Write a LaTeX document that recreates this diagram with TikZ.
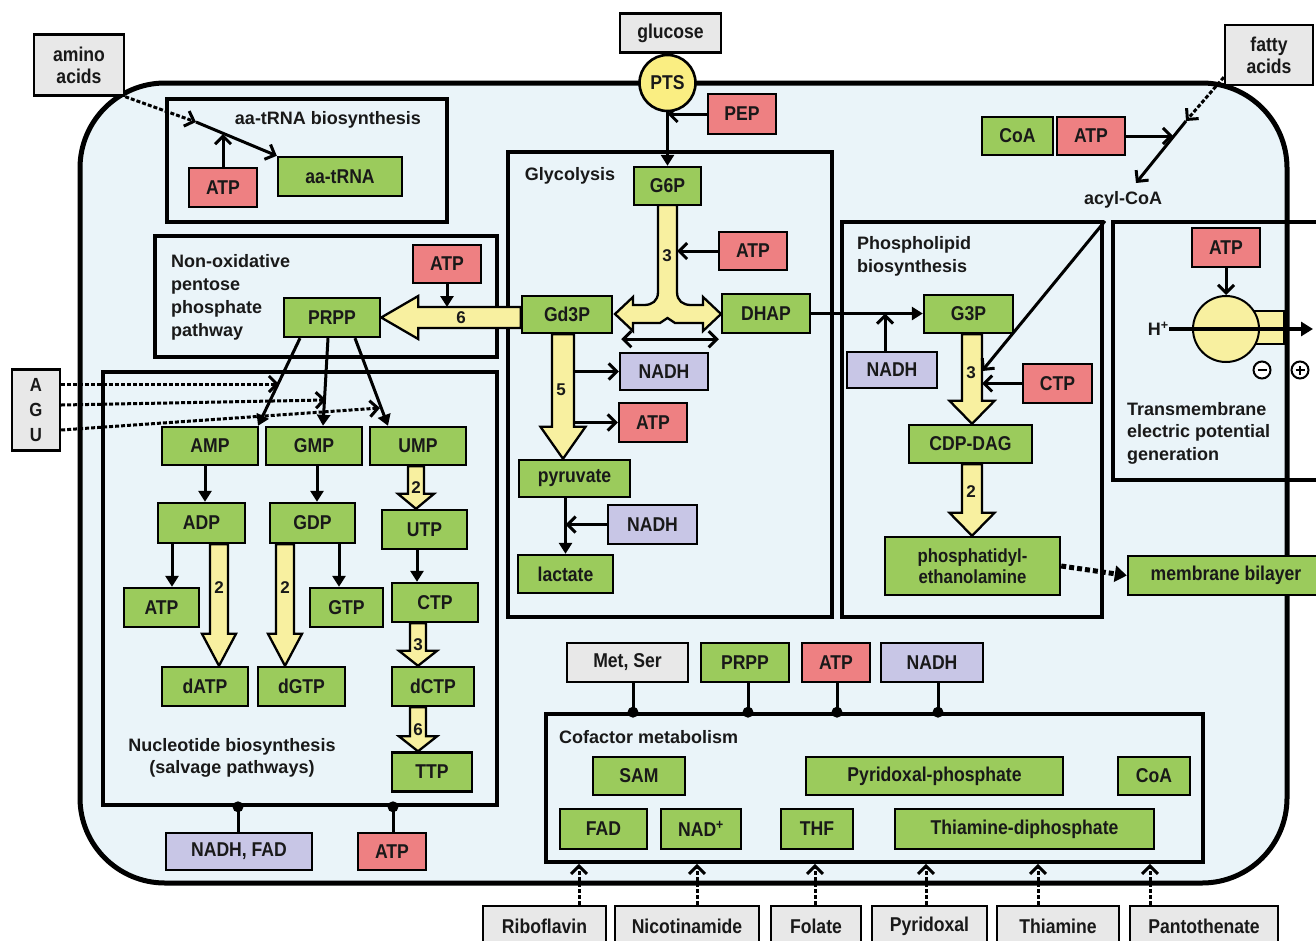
\documentclass[tikz,border=0pt]{standalone}
\usepackage{fontspec}
\setmainfont{Liberation Sans}
\newfontfamily\boxfont{Liberation Sans}[FakeStretch=0.88]
\usetikzlibrary{arrows.meta,calc}
\pgfdeclarelayer{bg}
\pgfdeclarelayer{conn}
\pgfsetlayers{bg,conn,main}
\definecolor{cgreen}{RGB}{155,203,92}
\definecolor{cred}{RGB}{238,128,130}
\definecolor{cpurple}{RGB}{200,198,230}
\definecolor{cgray}{RGB}{232,232,232}
\definecolor{cyellow}{RGB}{248,240,160}
\definecolor{cpts}{RGB}{250,238,130}
\definecolor{ccell}{RGB}{234,244,249}
\definecolor{ctext}{RGB}{25,25,25}
\newcommand\fatdown[6]{%
 \filldraw[fat] let \p1=(#1,0), \p2=(#2), \p3=(#3) in
  (\x1-#4pt,\y2) -- (\x1-#4pt,\y3+#6pt) -- (\x1-#5pt,\y3+#6pt) -- (\x1,\y3) -- (\x1+#5pt,\y3+#6pt) -- (\x1+#4pt,\y3+#6pt) -- (\x1+#4pt,\y2) -- cycle;}
\begin{document}
\begin{tikzpicture}[x=1pt,y=-1pt,
 >={Straight Barb[length=8pt,width=16pt]},
 bx/.style={draw=black, line width=2.4pt, inner sep=0pt, minimum height=38pt, align=center, text=ctext, font=\boxfont\fontsize{20}{22}\selectfont\bfseries},
 gbox/.style={bx, fill=cgreen},
 rbox/.style={bx, fill=cred},
 pbox/.style={bx, fill=cpurple},
 xbox/.style={bx, fill=cgray},
 sect/.style={draw=black, line width=3.6pt, inner sep=0pt},
 lbl/.style={font=\fontsize{18}{23}\selectfont\bfseries, text=ctext, inner sep=0pt},
 arr/.style={line width=3pt, ->},
 dbl/.style={line width=3pt, <->},
 arrT/.style={line width=3pt, -{Triangle[length=11pt,width=13pt]}},
 dsh/.style={line width=3pt, dash pattern=on 4pt off 2pt, ->},
 fat/.style={draw=black, line width=2.3pt, fill=cyellow, line join=miter},
 num/.style={font=\fontsize{17}{17}\selectfont\bfseries, text=ctext, inner sep=0pt},
 dotc/.style={circle, fill=black, inner sep=0pt, minimum size=11pt},
 pm/.style={circle, draw=black, line width=2pt, fill=white, inner sep=0pt, minimum size=17pt}]
\useasboundingbox (0,0) rectangle (1316,940);
\begin{pgfonlayer}{bg}
\fill[white] (0,0) rectangle (1316,940);
\draw[line width=5pt, fill=ccell, rounded corners=85pt] (80,83) rectangle (1287,883);
\node[sect, minimum width=280pt, minimum height=123pt] (aasec) at (307,160.5) {};
\node[sect, minimum width=342pt, minimum height=121pt] (pppsec) at (326,296.5) {};
\node[sect, minimum width=394pt, minimum height=433pt] (nucsec) at (300,588.5) {};
\node[sect, minimum width=324pt, minimum height=465pt] (glysec) at (670,384.5) {};
\node[sect, minimum width=260pt, minimum height=395pt] (phosec) at (972,419.5) {};
\node[sect, minimum width=657pt, minimum height=148pt] (cofsec) at (874.5,788) {};
\draw[line width=3.6pt] (1330,222) -- (1113,222) -- (1113,480) -- (1330,480);
\end{pgfonlayer}

% ---------- labels
\node[lbl, anchor=center] (aalbl) at (328,120) {aa-tRNA biosynthesis};
\node[lbl, anchor=north west, align=left] (ppplbl) at (171,254) {Non-oxidative\\pentose\\phosphate\\pathway};
\node[lbl, anchor=base] (glylbl) at (570,180) {Glycolysis};
\node[lbl, anchor=north west, align=left] (pholbl) at (857,236) {Phospholipid\\biosynthesis};
\node[lbl, anchor=north west, align=left, font=\fontsize{18}{22.5}\selectfont\bfseries] (tmlbl) at (1127,402) {Transmembrane\\electric potential\\generation};
\node[lbl, anchor=north, align=center, font=\fontsize{18}{22}\selectfont\bfseries] (nuclbl) at (232,738) {Nucleotide biosynthesis\\(salvage pathways)};
\node[lbl, anchor=north west] (coflbl) at (559,730) {Cofactor metabolism};
\node[lbl, anchor=north] (acyl) at (1123,191) {acyl-CoA};
\node[lbl, anchor=east] (hplus) at (1169,329) {H\textsuperscript{+}};

% ---------- external
\node[xbox, minimum width=90pt, minimum height=61pt] (amino) at (79,65) {amino\\acids};
\node[xbox, minimum width=101pt, minimum height=39pt] (glucose) at (670.5,33) {glucose};
\node[xbox, minimum width=88pt, minimum height=60pt] (fatty) at (1269,55) {fatty\\acids};
\node[xbox, minimum width=48pt, minimum height=81pt, font=\boxfont\fontsize{19}{25}\selectfont\bfseries] (agu) at (36,410) {A\\G\\U};
\node[xbox, minimum width=123pt, minimum height=40pt] (ribo) at (544.5,926) {Riboflavin};
\node[xbox, minimum width=144pt, minimum height=40pt] (nico) at (687,926) {Nicotinamide};
\node[xbox, minimum width=90pt, minimum height=40pt] (fola) at (816,926) {Folate};
\node[xbox, minimum width=115pt, minimum height=40pt] (pyri) at (929.5,926) {Pyridoxal};
\node[xbox, minimum width=122pt, minimum height=40pt] (thia) at (1058,926) {Thiamine};
\node[xbox, minimum width=148pt, minimum height=40pt] (pant) at (1204,926) {Pantothenate};
\node[circle, draw=black, line width=2.6pt, fill=cpts, minimum size=56pt, inner sep=0pt, text=ctext, font=\boxfont\fontsize{20}{22}\selectfont\bfseries] (pts) at (667.5,83) {PTS};
\node[rbox, minimum width=68pt, minimum height=40pt] (pep) at (742,114) {PEP};

% ---------- aa-tRNA
\node[rbox, minimum width=68pt, minimum height=39pt] (atpaa) at (223,187.5) {ATP};
\node[gbox, minimum width=124pt, minimum height=39pt] (aatrna) at (340,176.5) {aa-tRNA};

% ---------- PPP
\node[rbox, minimum width=68pt] (atpppp) at (447,264) {ATP};
\node[gbox, minimum width=96pt, minimum height=39pt] (prpp) at (332,317.5) {PRPP};

% ---------- nucleotides
\node[gbox, minimum width=96pt] (amp) at (210,446) {AMP};
\node[gbox, minimum width=96pt] (gmp) at (314,446) {GMP};
\node[gbox, minimum width=96pt] (ump) at (418,446) {UMP};
\node[gbox, minimum width=87pt, minimum height=40pt] (adp) at (201.5,523) {ADP};
\node[gbox, minimum width=85pt, minimum height=40pt] (gdp) at (312.5,523) {GDP};
\node[gbox, minimum width=85pt, minimum height=39pt] (utp) at (424.5,529.5) {UTP};
\node[gbox, minimum width=75pt, minimum height=39pt] (atpn) at (161.5,607.5) {ATP};
\node[gbox, minimum width=73pt, minimum height=39pt] (gtp) at (346.5,607.5) {GTP};
\node[gbox, minimum width=86pt, minimum height=39pt] (ctp) at (435,602.5) {CTP};
\node[gbox, minimum width=86pt, minimum height=39pt] (datp) at (205,686.5) {dATP};
\node[gbox, minimum width=87pt, minimum height=39pt] (dgtp) at (301.5,686.5) {dGTP};
\node[gbox, minimum width=82pt, minimum height=39pt] (dctp) at (433,686.5) {dCTP};
\node[gbox, minimum width=80pt, minimum height=39pt] (ttp) at (432,772) {TTP};
\node[pbox, minimum width=146pt, minimum height=37pt] (nadhfad) at (239,851.5) {NADH, FAD};
\node[rbox, minimum width=68pt, minimum height=37pt] (atpnb) at (392,851.5) {ATP};

% ---------- glycolysis
\node[gbox, minimum width=67pt] (g6p) at (667.5,186) {G6P};
\node[rbox, minimum width=68pt] (atpg) at (753,251) {ATP};
\node[gbox, minimum width=90pt, minimum height=37pt] (gd3p) at (567,314.5) {Gd3P};
\node[gbox, minimum width=88pt, minimum height=39pt] (dhap) at (766,313.5) {DHAP};
\node[pbox, minimum width=88pt, minimum height=37pt] (nadhg) at (664,371.5) {NADH};
\node[rbox, minimum width=68pt, minimum height=39pt] (atpg2) at (653,422.5) {ATP};
\node[gbox, minimum width=111pt, minimum height=37pt] (pyruvate) at (574.5,478.5) {pyruvate};
\node[pbox, minimum width=89pt, minimum height=39pt] (nadhg2) at (652.5,524.5) {NADH};
\node[gbox, minimum width=95pt] (lactate) at (565.5,574) {lactate};

% ---------- phospholipid
\node[gbox, minimum width=89pt] (g3p) at (968.5,314) {G3P};
\node[pbox, minimum width=90pt, minimum height=36pt] (nadhp) at (892,370) {NADH};
\node[rbox, minimum width=69pt, minimum height=39pt] (ctp2) at (1057.5,383.5) {CTP};
\node[gbox, minimum width=123pt] (cdpdag) at (970.5,444) {CDP-DAG};
\node[gbox, minimum width=175pt, minimum height=58pt, font=\boxfont\fontsize{19}{21}\selectfont\bfseries] (pe) at (972.5,566) {phosphatidyl-\\ethanolamine};
\node[gbox, minimum width=196pt, minimum height=39pt] (membrane) at (1226,575.5) {membrane bilayer};

% ---------- top right
\node[gbox, minimum width=71pt] (coa) at (1017.5,136) {CoA};
\node[rbox, minimum width=68pt] (atpcoa) at (1091,136) {ATP};
\node[rbox, minimum width=68pt, minimum height=39pt] (atptm) at (1226,247.5) {ATP};

% ---------- cofactor
\node[xbox, minimum width=121pt, minimum height=39pt] (metser) at (627.5,662.5) {Met, Ser};
\node[gbox, minimum width=88pt, minimum height=39pt] (prpp2) at (745,662.5) {PRPP};
\node[rbox, minimum width=68pt, minimum height=39pt] (atpc) at (836,662.5) {ATP};
\node[pbox, minimum width=102pt, minimum height=39pt] (nadhc) at (932,662.5) {NADH};
\node[gbox, minimum width=92pt] (sam) at (639,776) {SAM};
\node[gbox, minimum width=257pt] (pyrphos) at (934.5,776) {Pyridoxal-phosphate};
\node[gbox, minimum width=72pt] (coa2) at (1154,776) {CoA};
\node[gbox, minimum width=87pt, minimum height=40pt] (fad) at (603.5,829) {FAD};
\node[gbox, minimum width=80pt, minimum height=40pt] (nad) at (701,829) {NAD\textsuperscript{+}};
\node[gbox, minimum width=72pt, minimum height=40pt] (thf) at (817,829) {THF};
\node[gbox, minimum width=259pt, minimum height=40pt] (thdp) at (1024.5,829) {Thiamine-diphosphate};

% ---------- connectors
\begin{pgfonlayer}{conn}
% amino acids
\coordinate (aaj) at (196,122);
\coordinate (aam) at (223,134);
\draw[dsh] (amino.south east) -- (aaj);
\draw[arr] (aaj) -- (aatrna.north west);
\draw[arr] (atpaa.north) -- (aam);
% glucose
\draw[line width=2.6pt] (glucose.south) -- (pts.north);
\draw[arrT] (pts.south) -- (g6p.north);
\draw[arr] (pep.west) -- (pep.west -| pts.south);
% glycolysis Y arrow
\filldraw[fat] (658,205) -- (658,292) .. controls (658,301) and (652,305) .. (644,305) -- (633,305) -- (633,297) -- (615,314) -- (633,331) -- (633,323) -- (660,323) -- (667.5,318) -- (675,323) -- (703,323) -- (703,331) -- (721,314) -- (703,297) -- (703,305) -- (691,305) .. controls (683,305) and (677,301) .. (677,292) -- (677,205) -- cycle;
\coordinate (stemr) at (677,0);
\draw[arr] (atpg.west) -- (atpg.west -| stemr);
\draw[dbl] ([xshift=8pt,yshift=-5pt]gd3p.south east) -- ([xshift=-2pt,yshift=-5pt]dhap.south west);
\fatdown{563}{gd3p.south}{pyruvate.north}{11}{22.5}{32}
\coordinate (s5r) at (574,0);
\draw[arr] (s5r |- nadhg.west) -- (nadhg.west);
\draw[arr] (s5r |- atpg2.west) -- (atpg2.west);
\draw[arrT] (lactate.north |- pyruvate.south) -- (lactate.north);
\draw[arr] (nadhg2.west) -- (nadhg2.west -| lactate.north);
% PRPP fat arrow
\filldraw[fat] let \p1=(gd3p.west), \p2=(prpp.east) in (\x1,\y2+10.5pt) -- (\x2+37pt,\y2+10.5pt) -- (\x2+37pt,\y2+21.5pt) -- (\p2) -- (\x2+37pt,\y2-21.5pt) -- (\x2+37pt,\y2-10.5pt) -- (\x1,\y2-10.5pt) -- cycle;
\coordinate (pppshaft) at (0,307);
\draw[arrT] (atpppp.south) -- (atpppp.south |- pppshaft);
% PRPP to nucleotides
\draw[arrT] ([xshift=-32pt]prpp.south) -- ([xshift=48pt]amp.north);
\draw[arrT] ([xshift=-4pt]prpp.south) -- ([xshift=9pt]gmp.north);
\draw[arrT] ([xshift=23pt]prpp.south) -- ([xshift=-30pt]ump.north);
% AGU
\coordinate (ag1) at (279,384);
\coordinate (ag2) at (326,400);
\coordinate (ag3) at (380,408);
\draw[dsh] ([yshift=26pt]agu.east) -- (ag1);
\draw[dsh] ([yshift=5pt]agu.east) -- (ag2);
\draw[dsh] ([yshift=-20pt]agu.east) -- (ag3);
% nucleotide arrows
\draw[arrT] ([xshift=-5pt]amp.south) -- ([xshift=-5pt]amp.south |- adp.north);
\draw[arrT] ([xshift=3pt]gmp.south) -- ([xshift=3pt]gmp.south |- gdp.north);
\fatdown{416}{ump.south}{utp.north}{8}{18}{15}
\draw[arrT] ([xshift=-7.5pt]utp.south) -- ([xshift=-7.5pt]utp.south |- ctp.north);
\fatdown{418}{ctp.south}{dctp.north}{8}{19}{15}
\fatdown{418}{dctp.south}{ttp.north}{8}{19}{15}
\draw[arrT] ([xshift=-29.5pt]adp.south) -- ([xshift=-29.5pt]adp.south |- atpn.north);
\fatdown{219}{adp.south}{datp.north}{9}{17}{32}
\fatdown{285}{gdp.south}{dgtp.north}{9}{17}{32}
\draw[arrT] ([xshift=26.5pt]gdp.south) -- ([xshift=26.5pt]gdp.south |- gtp.north);
% nucleotide inputs
\coordinate (n1) at (238,0);
\coordinate (n2) at (393,0);
\draw[line width=3pt] (nadhfad.north -| n1) -- (nucsec.south -| n1);
\draw[line width=3pt] (atpnb.north -| n2) -- (nucsec.south -| n2);
% phospholipids
\draw[arrT] (dhap.east) -- (dhap.east -| g3p.west);
\coordinate (nup) at (885,0);
\draw[arr] (nup |- nadhp.north) -- (nup |- dhap.east);
\fatdown{972}{g3p.south}{cdpdag.north}{10}{22.5}{23}
\fatdown{972}{cdpdag.south}{pe.north}{10}{22.5}{23}
\coordinate (s3p) at (982,0);
\draw[arr] (ctp2.west) -- (ctp2.west -| s3p);
\coordinate (acy) at (1105,221);
\coordinate (acyt) at (982,371);
\draw[arr] (acy) -- (acyt);
\draw[line width=5pt, dash pattern=on 5pt off 3pt, -{Triangle[length=12pt,width=16pt]}] (pe.east) -- (membrane.west);
% fatty acids
\coordinate (fa1) at (1186,121);
\coordinate (fa2) at (1136,183);
\coordinate (fam) at (1173,0);
\draw[dsh] ([yshift=9pt]fatty.south west) -- (fa1);
\draw[arr] (fa1) -- (fa2);
\draw[arr] (atpcoa.east) -- (atpcoa.east -| fam);
% transmembrane
\draw[line width=2pt, fill=cyellow] (1252,311) rectangle (1284,344);
\node[circle, draw=black, line width=2pt, fill=cyellow, minimum size=66pt, inner sep=0pt] (pump) at (1226,329) {};
\draw[arr] (atptm.south) -- (pump.north);
\coordinate (hend) at (1313,329);
\draw[line width=4pt, -{Triangle[length=12pt,width=14pt]}] (hplus.east) -- (hend);
% cofactor inputs
\coordinate (c1) at (633,0);
\coordinate (c2) at (748,0);
\coordinate (c3) at (837,0);
\coordinate (c4) at (938,0);
\draw[line width=3pt] (metser.south -| c1) -- (cofsec.north -| c1);
\draw[line width=3pt] (prpp2.south -| c2) -- (cofsec.north -| c2);
\draw[line width=3pt] (atpc.south -| c3) -- (cofsec.north -| c3);
\draw[line width=3pt] (nadhc.south -| c4) -- (cofsec.north -| c4);
\coordinate (b1) at (579,0);
\coordinate (b2) at (697,0);
\coordinate (b3) at (815,0);
\coordinate (b4) at (926,0);
\coordinate (b5) at (1038,0);
\coordinate (b6) at (1150,0);
\draw[dsh] (ribo.north -| b1) -- (cofsec.south -| b1);
\draw[dsh] (nico.north -| b2) -- (cofsec.south -| b2);
\draw[dsh] (fola.north -| b3) -- (cofsec.south -| b3);
\draw[dsh] (pyri.north -| b4) -- (cofsec.south -| b4);
\draw[dsh] (thia.north -| b5) -- (cofsec.south -| b5);
\draw[dsh] (pant.north -| b6) -- (cofsec.south -| b6);
\end{pgfonlayer}

% dots and numbers
\node[dotc] (dn1) at (nucsec.south -| n1) {};
\node[dotc] (dn2) at (nucsec.south -| n2) {};
\node[dotc] (dc1) at (cofsec.north -| c1) {};
\node[dotc] (dc2) at (cofsec.north -| c2) {};
\node[dotc] (dc3) at (cofsec.north -| c3) {};
\node[dotc] (dc4) at (cofsec.north -| c4) {};
\node[num] (n6a) at (461,318) {6};
\node[num] (n3a) at (667,256) {3};
\node[num] (n5a) at (561,390) {5};
\node[num] (n2a) at (416,488) {2};
\node[num] (n3b) at (418,645) {3};
\node[num] (n6b) at (418,730) {6};
\node[num] (n2b) at (219,588) {2};
\node[num] (n2c) at (285,588) {2};
\node[num] (n3c) at (971,373) {3};
\node[num] (n2d) at (971,492) {2};
\node[pm] (minus) at (1262,370) {};
\node[pm] (plus) at (1300,370) {};
\draw[line width=2pt] ([xshift=-4.5pt]minus.center) -- ([xshift=4.5pt]minus.center);
\draw[line width=2pt] ([xshift=-4.5pt]plus.center) -- ([xshift=4.5pt]plus.center);
\draw[line width=2pt] ([yshift=-4.5pt]plus.center) -- ([yshift=4.5pt]plus.center);
\end{tikzpicture}
\end{document}
